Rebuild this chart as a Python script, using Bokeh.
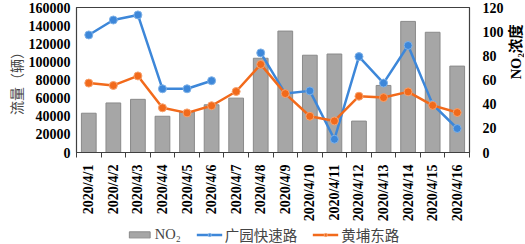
import math
from bokeh.plotting import figure
from bokeh.layouts import row, column
from bokeh.models import (Range1d, LinearAxis, FixedTicker, Legend, LegendItem,
                          ColumnDataSource, NumeralTickFormatter)
from bokeh.core.properties import value
from bokeh.embed import file_html
from bokeh.resources import INLINE

dates = ["2020/4/1", "2020/4/2", "2020/4/3", "2020/4/4", "2020/4/5", "2020/4/6",
         "2020/4/7", "2020/4/8", "2020/4/9", "2020/4/10", "2020/4/11", "2020/4/12",
         "2020/4/13", "2020/4/14", "2020/4/15", "2020/4/16"]
no2 = [32.5, 41, 44, 30, 33.5, 39.5, 45, 78, 100.5, 80.5, 81.5, 26, 55.5, 108.5, 99.5, 71.5]
guangyuan = [129700, 146200, 151800, 70300, 70300, 79200, float("nan"), 109900,
             65000, 68000, 14600, 105800, 76600, 118100, 53100, 26500]
huangpu = [76600, 74000, 84500, 49300, 43700, 51600, 67300, 97200,
           65000, 40000, 34800, 62100, 60600, 66900, 52000, 44100]
left_title = "流量（辆）"
right_title = "NO₂浓度"
series_names = ["NO₂", "广园快速路", "黄埔东路"]

x = list(range(1, len(dates) + 1))
src = ColumnDataSource(dict(x=x, no2=no2, gy=guangyuan, hp=huangpu))

SERIF = "'Liberation Serif', 'Noto Sans CJK SC'"
CJK = "'Noto Sans CJK SC'"
BLUE = "#3D87D9"
ORANGE = "#F26A1B"
BAR_FILL = "#A6A6A6"
BAR_LINE = "#8A8A8A"
AXIS_C = "#404040"

p = figure(frame_width=393, frame_height=145, output_backend="svg", toolbar_location=None,
           x_range=Range1d(0.5, len(dates) + 0.5), y_range=Range1d(0, 160000),
           min_border_left=76, min_border_right=37, min_border_top=7, min_border_bottom=72,
           outline_line_color=AXIS_C, outline_line_width=1.2)
p.grid.visible = False
p.extra_y_ranges = {"no2": Range1d(0, 120)}

p.vbar(x="x", top="no2", width=0.6, source=src, y_range_name="no2",
       fill_color=BAR_FILL, line_color=BAR_LINE, line_width=1)
p.line("x", "gy", source=src, color=BLUE, line_width=2.5)
p.scatter("x", "gy", source=src, size=8, fill_color=BLUE, line_color="#7FB2E8", line_width=1)
p.line("x", "hp", source=src, color=ORANGE, line_width=2.5)
p.scatter("x", "hp", source=src, size=8, fill_color=ORANGE, line_color="#F7A26E", line_width=1)

# x axis
xa = p.xaxis[0]
xa.ticker = FixedTicker(ticks=x, minor_ticks=[i + 0.5 for i in range(0, len(dates) + 1)])
xa.major_label_overrides = {i: d for i, d in zip(x, dates)}
xa.major_label_orientation = math.pi / 2
xa.major_tick_out = 0
xa.major_tick_in = 0
xa.minor_tick_out = 5
xa.minor_tick_in = 0
xa.minor_tick_line_color = AXIS_C
xa.axis_line_color = AXIS_C
xa.axis_line_width = 1.2
xa.major_label_standoff = 7
xa.major_label_text_font = SERIF
xa.major_label_text_font_style = "bold"
xa.major_label_text_font_size = "14px"
xa.major_label_text_color = "#000000"

# left axis
ya = p.yaxis[0]
ya.ticker = FixedTicker(ticks=list(range(0, 160001, 20000)))
ya.formatter = NumeralTickFormatter(format="0")
ya.major_tick_out = 0
ya.major_tick_in = 0
ya.minor_tick_out = 0
ya.minor_tick_in = 0
ya.axis_line_color = AXIS_C
ya.major_label_standoff = 6
ya.major_label_text_font = SERIF
ya.major_label_text_font_style = "bold"
ya.major_label_text_font_size = "14px"
ya.major_label_text_color = "#000000"
ya.axis_label = left_title
ya.axis_label_text_font = CJK
ya.axis_label_text_font_style = "normal"
ya.axis_label_text_font_size = "14px"
ya.axis_label_standoff = 0

# right axis
ra = LinearAxis(y_range_name="no2", ticker=FixedTicker(ticks=list(range(0, 121, 20))))
ra.major_tick_out = 0
ra.major_tick_in = 0
ra.minor_tick_out = 0
ra.minor_tick_in = 0
ra.axis_line_color = AXIS_C
ra.major_label_standoff = 13
ra.major_label_text_font = SERIF
ra.major_label_text_font_style = "bold"
ra.major_label_text_font_size = "14px"
ra.major_label_text_color = "#000000"
p.add_layout(ra, "right")

MAIN_H = 7 + 145 + 72


def label_fig(text, style, y_bottom):
    f = figure(width=18, height=MAIN_H, output_backend="svg", toolbar_location=None,
               x_range=Range1d(0, 1), y_range=Range1d(0, MAIN_H),
               x_axis_type=None, y_axis_type=None, min_border=0,
               outline_line_color=None)
    f.grid.visible = False
    f.text(x=[0.5], y=[MAIN_H - y_bottom], text=[text], angle=math.pi / 2,
           text_align="left", text_baseline="middle",
           text_font=value(SERIF), text_font_style=style,
           text_font_size="14.5px", text_color="#000000")
    return f


right_fig = label_fig(right_title, "bold", 111)

# legend strip
lg = figure(width=525, height=20, output_backend="svg", toolbar_location=None,
            x_range=Range1d(0, 1), y_range=Range1d(0, 1),
            x_axis_type=None, y_axis_type=None, min_border=0, outline_line_color=None)
lg.grid.visible = False
nan = float("nan")
dummy = ColumnDataSource(dict(x=[nan], y=[nan]))
rb = lg.vbar(x="x", top="y", width=0.6, source=dummy,
             fill_color=BAR_FILL, line_color=BAR_LINE, line_width=1)
rl1 = lg.line("x", "y", source=dummy, color=BLUE, line_width=2.5)
rs1 = lg.scatter("x", "y", source=dummy, size=7, fill_color=BLUE, line_color="#7FB2E8")
rl2 = lg.line("x", "y", source=dummy, color=ORANGE, line_width=2.5)
rs2 = lg.scatter("x", "y", source=dummy, size=7, fill_color=ORANGE, line_color="#F7A26E")
legend = Legend(items=[
    LegendItem(label=series_names[0], renderers=[rb]),
    LegendItem(label=series_names[1], renderers=[rl1, rs1]),
    LegendItem(label=series_names[2], renderers=[rl2, rs2]),
], orientation="horizontal", location="center",
    border_line_color=None, background_fill_alpha=0,
    label_text_font=SERIF, label_text_font_size="14.5px",
    label_text_font_style="normal", label_height=14,
    glyph_width=26, glyph_height=8, spacing=15, label_standoff=3,
    padding=0, margin=0)
lg.add_layout(legend, "center")

layout = column(row(p, right_fig, spacing=0), lg, spacing=0)
open("out.html", "w").write(file_html(layout, INLINE))
